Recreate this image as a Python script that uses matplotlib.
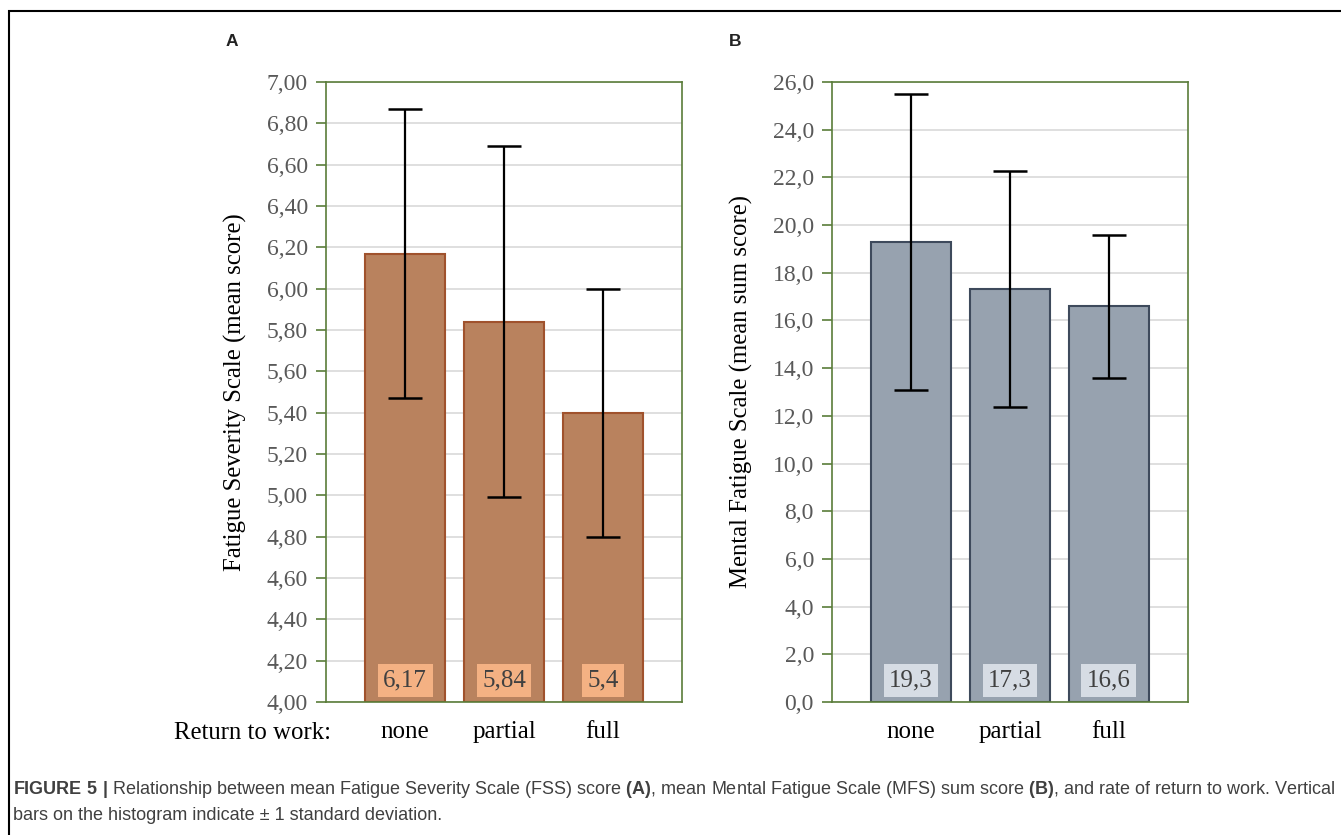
import matplotlib.pyplot as plt
from matplotlib.patches import Rectangle
from matplotlib.ticker import FuncFormatter

plt.rcParams["mathtext.fontset"] = "custom"
plt.rcParams["mathtext.rm"] = "Liberation Sans"
plt.rcParams["mathtext.bf"] = "Liberation Sans:bold"

categories = ["none", "partial", "full"]

fss_mean = [6.17, 5.84, 5.40]
fss_sd = [0.70, 0.85, 0.60]
fss_labels = ["6,17", "5,84", "5,4"]

mfs_mean = [19.3, 17.3, 16.6]
mfs_sd = [6.2, 4.95, 3.0]
mfs_labels = ["19,3", "17,3", "16,6"]

W, H = 1341, 835
SERIF = ["Liberation Serif", "DejaVu Serif"]
SANS = ["Liberation Sans", "DejaVu Sans"]
SPINE = "#5a7d3a"


def draw_panel(ax, means, sds, labels, ylim, step, fmt, fill, edge, box, ylabel):
    x = list(range(len(categories)))
    heights = [m - ylim[0] for m in means]
    ax.bar(x, heights, bottom=ylim[0], width=0.81, color=fill,
           edgecolor=edge, linewidth=1.5, zorder=2)
    ax.errorbar(x, means, yerr=sds, fmt="none", ecolor="black",
                elinewidth=1.6, capsize=12, capthick=1.8, zorder=3)
    for xi, lab in zip(x, labels):
        ax.text(xi, 0.034, lab, transform=ax.get_xaxis_transform(),
                ha="center", va="center", fontsize=18, color="#404040",
                family=SERIF, zorder=4,
                bbox=dict(boxstyle="square,pad=0.22", facecolor=box,
                          edgecolor="none"))
    ax.set_xlim(-0.8, 2.8)
    ax.set_ylim(*ylim)
    n = round((ylim[1] - ylim[0]) / step)
    ax.set_yticks([ylim[0] + i * step for i in range(n + 1)])
    ax.yaxis.set_major_formatter(
        FuncFormatter(lambda v, _: fmt.format(v).replace(".", ",")))
    ax.set_xticks(x)
    ax.set_xticklabels(categories, family=SERIF, fontsize=18,
                       color="black")
    ax.tick_params(axis="x", length=0, pad=14)
    ax.tick_params(axis="y", direction="out", length=7, width=1.2,
                   color=SPINE, labelsize=17, labelcolor="#595959", pad=6)
    for lab in ax.get_yticklabels():
        lab.set_family(SERIF)
    for s in ax.spines.values():
        s.set_color(SPINE)
        s.set_linewidth(1.2)
    ax.grid(axis="y", color="#d9d9d9", linewidth=1.2, zorder=0)
    ax.set_axisbelow(True)
    ax.set_ylabel(ylabel, family=SERIF, fontsize=17.8, color="black",
                  labelpad=14)


fig = plt.figure(figsize=(W / 100, H / 100), dpi=100)

ax_a = fig.add_axes([326 / W, (H - 702) / H, 356 / W, 620 / H])
ax_b = fig.add_axes([832 / W, (H - 702) / H, 356 / W, 620 / H])

draw_panel(ax_a, fss_mean, fss_sd, fss_labels, (4.0, 7.0), 0.2, "{:.2f}",
           "#b9825e", "#a0522d", "#f4b183",
           "Fatigue Severity Scale (mean score)")
draw_panel(ax_b, mfs_mean, mfs_sd, mfs_labels, (0.0, 26.0), 2.0, "{:.1f}",
           "#97a2af", "#3e4a5c", "#d6dce4",
           "Mental Fatigue Scale (mean sum score)")

fig.text(253 / W, 1 - 733 / H, "Return to work:", ha="center", va="center",
         family=SERIF, fontsize=17.8, color="black")

fig.text(232 / W, 1 - 42 / H, "A", ha="center", va="center",
         family=SANS, fontsize=12.5, fontweight="bold", color="#222222")
fig.text(735 / W, 1 - 42 / H, "B", ha="center", va="center",
         family=SANS, fontsize=12.5, fontweight="bold", color="#222222")

# frame around the figure (right/bottom edges fall outside the crop)
fig.patches.append(Rectangle((9 / W, -0.05), 1.1, 1 - 11 / H + 0.05,
                             transform=fig.transFigure, fill=False,
                             edgecolor="black", linewidth=1.5))

fig.text(13 / W, 1 - 790 / H,
         r"$\bf{FIGURE\ 5\ |}$ Relationship between mean Fatigue Severity "
         r"Scale (FSS) score $\bf{(A)}$, mean Mental Fatigue Scale (MFS) "
         r"sum score $\bf{(B)}$, and rate of return to work. Vertical",
         ha="left", va="center", family=SANS, fontsize=13.0,
         color="#404040")
fig.text(13 / W, 1 - 816 / H,
         "bars on the histogram indicate \u00b1 1 standard deviation.",
         ha="left", va="center", family=SANS, fontsize=13.0,
         color="#404040")

fig.savefig("out.png", dpi=100)
